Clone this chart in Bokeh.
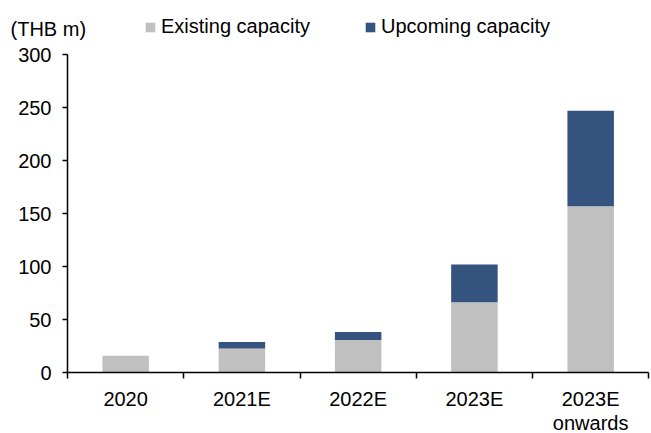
from bokeh.plotting import figure
from bokeh.models import (ColumnDataSource, Range1d, FixedTicker, Legend, LegendItem, Label)
from bokeh.embed import file_html
from bokeh.resources import INLINE

categories = ["2020", "2021E", "2022E", "2023E", "2023E\nonwards"]
existing = [16, 23, 31, 66.5, 157]
upcoming = [0, 6, 7.5, 35.5, 90]
y_ticks = [0, 50, 100, 150, 200, 250, 300]
unit_label = "(THB m)"
series_names = ["Existing capacity", "Upcoming capacity"]

GREY = "#c0c0c0"
BLUE = "#34537f"
FONT = "Liberation Sans"
W, H = 651, 433

# pixel geometry of the plotting area (axis lines)
X0, X1 = 67, 648.3      # x of category 0 start and category 5 end
Y0, Y300 = 372.3, 54    # y pixel of value 0 and value 300
n = len(categories)
kx = (X1 - X0) / n
ky = (Y0 - Y300) / 300.0

xs = [i + 0.5 for i in range(n)]
tops = [e + u for e, u in zip(existing, upcoming)]
src = ColumnDataSource(dict(x=xs, existing=existing, top=tops))

p = figure(width=W, height=H, output_backend="svg", toolbar_location=None,
           x_range=Range1d(-X0 / kx, n + (W - X1) / kx),
           y_range=Range1d(-(H - Y0) / ky, Y0 / ky),
           min_border=0, min_border_left=0, min_border_right=0,
           min_border_top=0, min_border_bottom=0)
p.outline_line_color = None
p.xgrid.visible = False
p.ygrid.visible = False
p.background_fill_color = "white"
p.border_fill_color = "white"

r1 = p.vbar(x="x", bottom=0, top="existing", width=0.4, fill_color=GREY, line_color=None, source=src)
r2 = p.vbar(x="x", bottom="existing", top="top", width=0.4, fill_color=BLUE, line_color=None, source=src)

# x axis: labels at centres, ticks at category boundaries
xa = p.xaxis[0]
xa.fixed_location = 0
xa.bounds = (0, n)
xa.ticker = FixedTicker(ticks=xs, minor_ticks=list(range(n + 1)))
xa.major_label_overrides = {x: c for x, c in zip(xs, categories)}
xa.major_tick_out = 0
xa.major_tick_in = 0
xa.minor_tick_out = 6
xa.minor_tick_in = 0
xa.minor_tick_line_color = "black"
xa.minor_tick_line_width = 1.5
xa.axis_line_color = "black"
xa.axis_line_width = 1.5
xa.major_label_standoff = 9
xa.major_label_text_font = FONT
xa.major_label_text_font_size = "20px"
xa.major_label_text_color = "black"
xa.major_label_text_line_height = 1.1

ya = p.yaxis[0]
ya.fixed_location = 0
ya.bounds = (0, 300)
ya.ticker = FixedTicker(ticks=y_ticks, minor_ticks=[])
ya.major_tick_out = 5
ya.major_tick_in = 0
ya.major_tick_line_color = "black"
ya.major_tick_line_width = 1.5
ya.axis_line_color = "black"
ya.axis_line_width = 1.5
ya.major_label_standoff = 11
ya.major_label_text_font = FONT
ya.major_label_text_font_size = "20px"
ya.major_label_text_color = "black"

legend = Legend(items=[LegendItem(label=series_names[0], renderers=[r1]),
                       LegendItem(label=series_names[1], renderers=[r2])],
                orientation="horizontal", location=(144, H - 38), padding=0, margin=0,
                spacing=54, glyph_width=12, glyph_height=12, label_standoff=5,
                label_text_font=FONT, label_text_font_size="20px", label_text_color="black",
                border_line_alpha=0, background_fill_alpha=0)
p.add_layout(legend)

lab = Label(x=10, y=H - 28, x_units="screen", y_units="screen", text=unit_label,
            text_baseline="alphabetic",
            text_font=FONT, text_font_size="20px", text_color="black")
p.add_layout(lab)

open("out.html", "w").write(file_html(p, INLINE))
